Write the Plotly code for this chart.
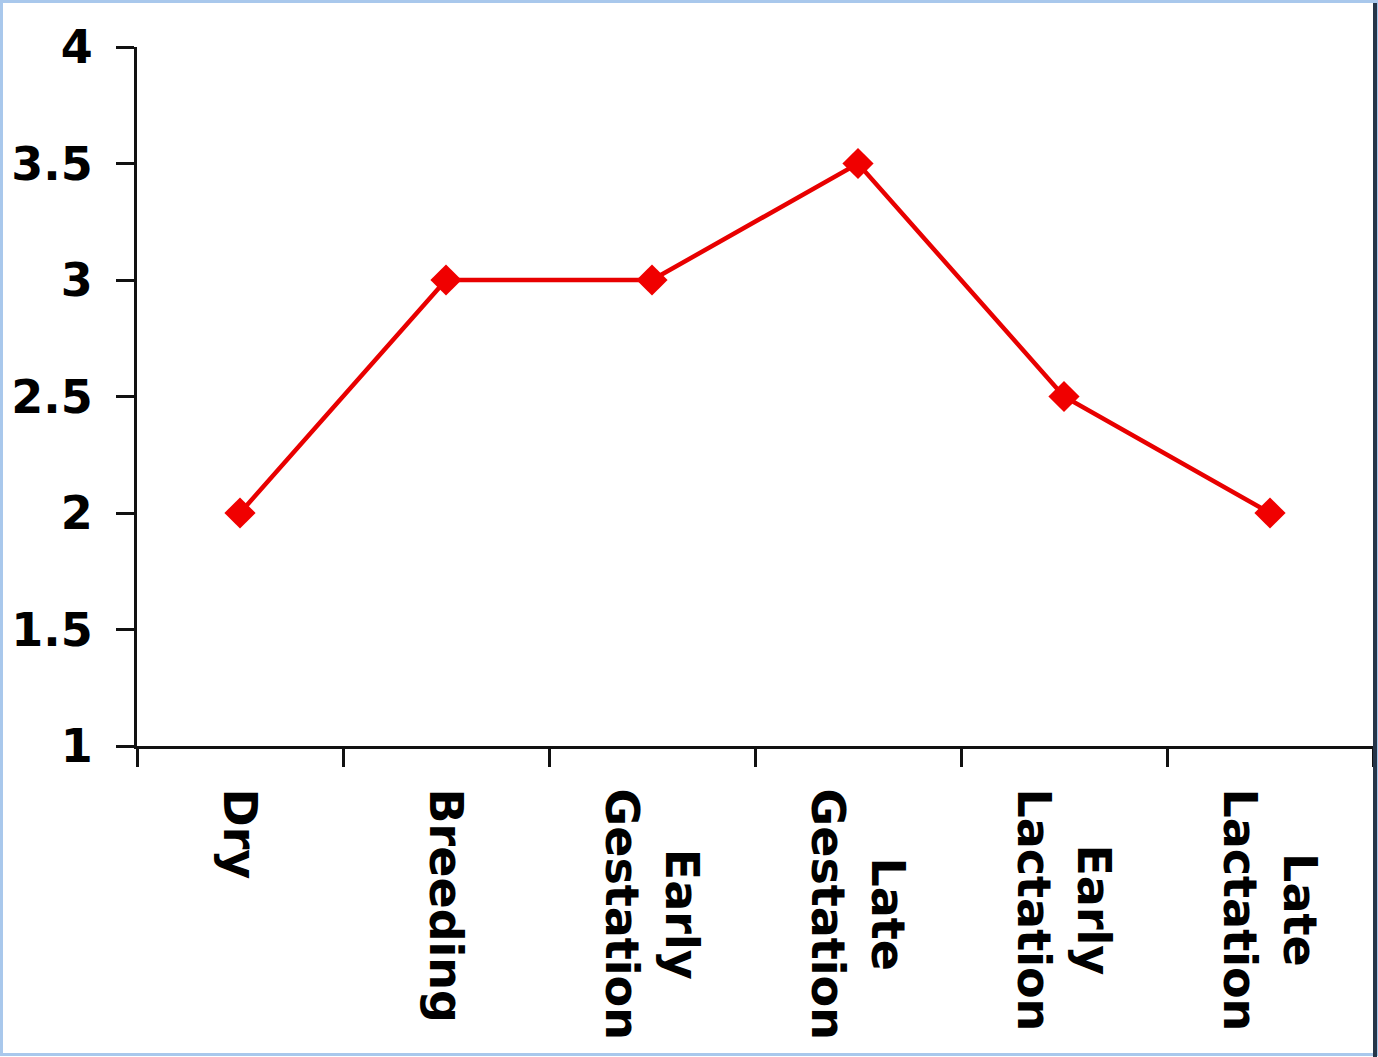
import plotly.graph_objects as go

categories = ["Dry", "Breeding", "Early<br>Gestation", "Late<br>Gestation", "Early<br>Lactation", "Late<br>Lactation"]
values = [2, 3, 3, 3.5, 2.5, 2]
y_ticks = [1, 1.5, 2, 2.5, 3, 3.5, 4]
y_tick_labels = ["1", "1.5", "2", "2.5", "3", "3.5", "4"]

W, H = 1378, 1057
ML, MR, MT, MB = 137, 5, 47, 311
PW, PH = W - ML - MR, H - MT - MB

FONT = "DejaVu Sans"

fig = go.Figure()
fig.add_trace(go.Scatter(
    x=list(range(len(categories))), y=values, mode="lines+markers",
    line=dict(color="#e80000", width=4.5),
    marker=dict(symbol="diamond", size=24, color="#f00000"),
    showlegend=False, hoverinfo="skip",
))

for i, c in enumerate(categories):
    fig.add_annotation(
        x=i, xref="x", y=0, yref="paper", yanchor="top", xanchor="center",
        yshift=-40, text="<b>" + c + "</b>", textangle=90, align="center",
        showarrow=False, font=dict(family=FONT, size=46, color="black"),
    )

def px(xp):
    return (xp - ML) / PW

def py(yp):
    return (H - MB - yp) / PH

# outer frame
fig.add_shape(type="rect", xref="paper", yref="paper", x0=px(1.5), x1=px(W - 1.5), y0=py(H - 2.5), y1=py(1.5),
              line=dict(color="#a9c8ec", width=3), fillcolor="rgba(0,0,0,0)", layer="above")
fig.add_shape(type="line", xref="paper", yref="paper", x0=px(W - 3), x1=px(W - 3), y0=py(H), y1=py(3),
              line=dict(color="#253548", width=4), layer="above")

fig.update_layout(
    width=W, height=H,
    margin=dict(l=ML, r=MR, t=MT, b=MB, pad=0),
    paper_bgcolor="white", plot_bgcolor="white",
    xaxis=dict(
        range=[-0.5, len(categories) - 0.5], tickmode="array",
        tickvals=[i - 0.5 for i in range(len(categories) + 1)],
        showticklabels=False, ticks="outside", ticklen=18, tickwidth=3, tickcolor="#111",
        showline=True, linewidth=3, linecolor="#111", showgrid=False, zeroline=False,
    ),
    yaxis=dict(
        range=[1, 4], tickmode="array", tickvals=y_ticks, ticktext=["<b>%s</b>" % t for t in y_tick_labels],
        ticks="outside", ticklen=18, tickwidth=3, tickcolor="#111", ticklabelstandoff=14,
        tickfont=dict(family=FONT, size=46, color="black"),
        showline=True, linewidth=3, linecolor="#111", showgrid=False, zeroline=False,
    ),
)

fig.write_html("out.html", config={"displayModeBar": False},
               post_script="document.body.style.margin='0';document.body.style.overflow='hidden';")
